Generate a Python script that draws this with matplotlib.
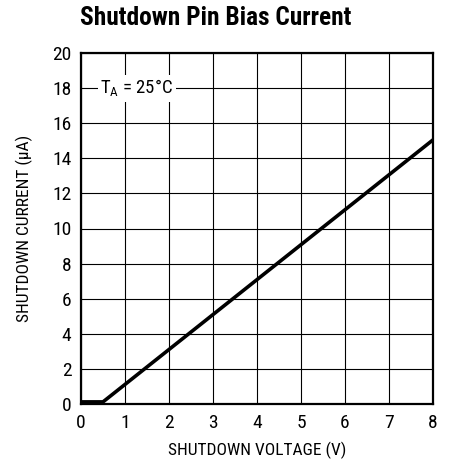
import matplotlib.pyplot as plt
from matplotlib import font_manager

names = {f.name for f in font_manager.fontManager.ttflist}
fam = "DejaVu Sans"
for cand in ["Liberation Sans Narrow", "Roboto Condensed", "Liberation Sans"]:
    if cand in names:
        fam = cand
        break
plt.rcParams["font.family"] = [fam, "DejaVu Sans"]

voltage = [0.0, 0.5, 8.0]
current = [0.12, 0.12, 15.05]

fig = plt.figure(figsize=(4.53, 4.59), dpi=100)
ax = fig.add_axes([81 / 453, 1 - 404 / 459, 352 / 453, 351 / 459])

ax.plot(voltage, current, color="black", linewidth=2.6, solid_capstyle="butt")
ax.set_xlim(0, 8)
ax.set_ylim(0, 20)
ax.set_xticks(range(0, 9))
ax.set_yticks(range(0, 21, 2))
ax.grid(True, color="black", linewidth=0.8)
ax.tick_params(length=0, labelsize=14, pad=7)
for s in ax.spines.values():
    s.set_linewidth(1.6)

ax.text(1.27, 18, "T$_\\mathregular{A}$ = 25°C", ha="center", va="center", fontsize=13.5,
        bbox=dict(facecolor="white", edgecolor="none", pad=2))

ax.set_xlabel("SHUTDOWN VOLTAGE (V)", fontsize=12.5, labelpad=7)
ax.set_ylabel("SHUTDOWN CURRENT (μA)", fontsize=12.5, labelpad=14)
fig.text(80 / 453, 1 - 18 / 459, "Shutdown Pin Bias Current", fontsize=18.3,
         fontweight="bold", ha="left", va="center")

fig.savefig("out.png", dpi=100)
